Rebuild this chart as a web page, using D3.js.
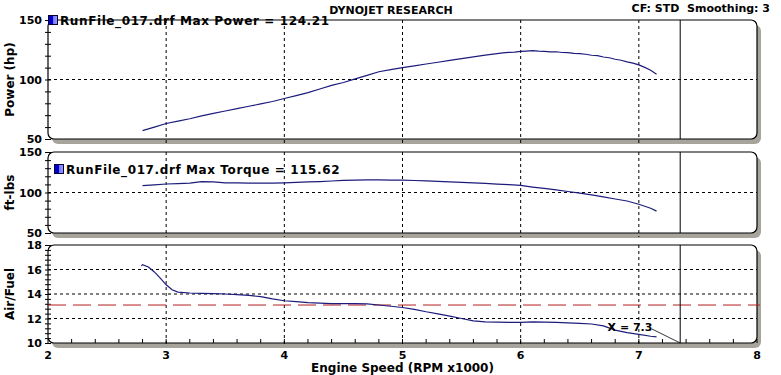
<!DOCTYPE html>
<html>
<head>
<meta charset="utf-8">
<script src="https://cdn.jsdelivr.net/npm/d3@7"></script>
<style>
  body { margin: 0; background: #fff; }
  svg { display: block; font-family: "DejaVu Sans", Verdana, sans-serif; font-weight: bold; }
</style>
</head>
<body>
<div id="chart"></div>
<script>
// values
const powerRpm = [2.8, 2.9, 3.0, 3.1, 3.2, 3.3, 3.4, 3.5, 3.6, 3.7, 3.8, 3.9, 4.0, 4.1, 4.2, 4.3, 4.4, 4.5, 4.6, 4.7, 4.8, 4.9, 5.0, 5.1, 5.2, 5.3, 5.4, 5.5, 5.6, 5.7,
  5.8, 5.85, 5.9, 5.95, 6.0, 6.05, 6.1, 6.15, 6.2, 6.25, 6.3, 6.35, 6.4, 6.45, 6.5, 6.55, 6.6, 6.65, 6.7, 6.75, 6.8, 6.85, 6.9, 6.95, 7.0, 7.05, 7.1, 7.15]
const power = [57, 60, 63, 65, 67, 69.5, 71.5, 73.5, 75.5, 77.5, 79.5, 81.5, 84, 86.5, 89, 92, 95, 97.5, 100.5, 103.5, 106.5, 108.3, 110, 111.5, 113, 114.5, 116, 117.5, 119, 120.5,
  121.8, 122.3, 122.8, 123.0, 123.6, 123.9, 124.2, 123.8, 123.7, 123.2, 123.3, 122.7, 122.6, 121.9, 121.7, 121.2, 120.4, 120.0, 118.9, 118.3, 117.0, 116.2, 114.8, 113.8, 112.3, 110.2, 107.8, 104.5]

const torqueRpm = [2.8, 2.9, 3.0, 3.1, 3.2, 3.3, 3.4, 3.5, 3.6, 3.7, 3.8, 3.9, 4.0, 4.1, 4.2, 4.3, 4.4, 4.5, 4.6, 4.7, 4.8, 4.9, 5.0, 5.1, 5.2, 5.3, 5.4, 5.5, 5.6, 5.7,
  5.8, 5.9, 6.0, 6.1, 6.2, 6.3, 6.4, 6.5, 6.6, 6.7, 6.8, 6.9, 7.0, 7.1, 7.15]
const torque = [108.5, 109.5, 110.5, 111, 111.5, 113.5, 113, 112, 112, 111.5, 111.5, 111.5, 112, 112.5, 113, 113.5, 114.2, 115, 115.3, 115.6, 115.6, 115.4, 115.3, 114.8, 114.3, 113.8, 113, 112.5, 112, 111.2,
  110.3, 109.6, 108.7, 106.7, 105, 103.2, 101.2, 99.2, 97, 94.5, 92, 89.5, 85.5, 80.5, 77]

const afrRpm = [2.79, 2.8, 2.85, 2.9, 2.95, 3.0, 3.05, 3.1, 3.2, 3.3, 3.4, 3.5, 3.6, 3.7, 3.8, 3.9, 4.0, 4.1, 4.2, 4.3, 4.4, 4.5, 4.6, 4.7, 4.8, 4.9, 5.0, 5.1, 5.2, 5.3, 5.4, 5.5, 5.6,
  5.7, 5.8, 5.9, 6.0, 6.1, 6.2, 6.3, 6.4, 6.5, 6.6, 6.7, 6.8, 6.9, 7.0, 7.1, 7.15]
const afr = [16.3, 16.4, 16.2, 15.8, 15.3, 14.75, 14.35, 14.15, 14.08, 14.05, 14.03, 14.0, 13.95, 13.88, 13.78, 13.6, 13.45, 13.38, 13.3, 13.25, 13.22, 13.22, 13.22, 13.2, 13.1, 13.0, 12.9, 12.75, 12.55, 12.38, 12.2, 12.0, 11.8,
  11.72, 11.7, 11.68, 11.68, 11.72, 11.7, 11.68, 11.65, 11.6, 11.55, 11.4, 11.05, 10.85, 10.7, 10.55, 10.5]

const afrTarget = 13.1
const cursorRpm = 7.35
const xTicks = [2, 3, 4, 5, 6, 7, 8]

const svgWidth = 781
const svgHeight = 375
const left = 48, right = 757

const svg = d3.select("#chart").append("svg")
    .attr("width", svgWidth)
    .attr("height", svgHeight)

const defs = svg.append("defs")
const grad = defs.append("linearGradient").attr("id", "legendFill")
grad.append("stop").attr("offset", "0%").attr("stop-color", "#0000c8")
grad.append("stop").attr("offset", "50%").attr("stop-color", "#0000c8")
grad.append("stop").attr("offset", "55%").attr("stop-color", "#7a7aff")
grad.append("stop").attr("offset", "100%").attr("stop-color", "#9a9aff")

const x = d3.scaleLinear().domain([2, 8]).range([left, right])

const panels = [
  { top: 20, bottom: 139, domain: [50, 150], majors: [50, 100, 150], minor: 10, grid: [100],
    title: "Power (hp)", xs: powerRpm, ys: power, legend: "RunFile_017.drf Max Power = 124.21", lx: 48, ly: 15 },
  { top: 152, bottom: 233, domain: [50, 150], majors: [50, 100, 150], minor: 10, grid: [100],
    title: "ft-lbs", xs: torqueRpm, ys: torque, legend: "RunFile_017.drf Max Torque = 115.62", lx: 54, ly: 164 },
  { top: 245, bottom: 343, domain: [10, 18], majors: [10, 12, 14, 16, 18], minor: 0.4, grid: [12, 14, 16],
    title: "Air/Fuel", xs: afrRpm, ys: afr }
]

panels.forEach(function(p, i) {
  const y = d3.scaleLinear().domain(p.domain).range([p.bottom, p.top])
  const g = svg.append("g")

  // shadow + box
  g.append("rect")
    .attr("x", left + 4).attr("y", p.top + 5)
    .attr("width", right - left).attr("height", p.bottom - p.top)
    .attr("rx", 6)
    .attr("fill", "#a7a59b")
  g.append("rect")
    .attr("x", left).attr("y", p.top)
    .attr("width", right - left).attr("height", p.bottom - p.top)
    .attr("rx", 6)
    .attr("fill", "#fff")
    .attr("stroke", "#000")
    .attr("stroke-width", 1.2)

  // grid
  g.selectAll(".vgrid")
    .data(xTicks.slice(1, -1))
    .join("line")
    .attr("x1", d => x(d)).attr("x2", d => x(d))
    .attr("y1", p.top).attr("y2", p.bottom + 4)
    .attr("stroke", "#000")
    .attr("stroke-dasharray", "3,3")
  g.selectAll(".hgrid")
    .data(p.grid)
    .join("line")
    .attr("x1", left).attr("x2", right)
    .attr("y1", d => y(d)).attr("y2", d => y(d))
    .attr("stroke", "#000")
    .attr("stroke-dasharray", "3,3")

  // left axis with minor ticks
  const tickVals = d3.range(p.domain[0], p.domain[1] + p.minor / 2, p.minor)
  const yAxis = g.append("g")
    .attr("transform", `translate(${left},0)`)
    .call(d3.axisLeft(y).tickValues(tickVals).tickSizeOuter(0)
      .tickFormat(d => p.majors.some(m => Math.abs(m - d) < 1e-6) ? d3.format("d")(d) : ""))
  yAxis.select(".domain").remove()
  yAxis.selectAll(".tick line").attr("x1", -3).attr("x2", 3).attr("stroke", "#000")
  yAxis.selectAll(".tick text")
    .attr("x", -6)
    .attr("font-family", "DejaVu Sans, Verdana, sans-serif")
    .attr("font-weight", "bold")
    .attr("font-size", 11)
    .attr("fill", "#000")

  svg.append("text")
    .attr("transform", `translate(14,${(p.top + p.bottom) / 2}) rotate(-90)`)
    .attr("text-anchor", "middle")
    .attr("font-size", 12)
    .text(p.title)

  if (i === 2) {
    g.append("line")
      .attr("x1", left).attr("x2", 760)
      .attr("y1", y(afrTarget)).attr("y2", y(afrTarget))
      .attr("stroke", "#b41e1e")
      .attr("stroke-dasharray", "18,7")
  }

  // cursor line
  g.append("line")
    .attr("x1", x(cursorRpm)).attr("x2", x(cursorRpm))
    .attr("y1", p.top).attr("y2", p.bottom)
    .attr("stroke", "#000")

  // curve
  const pts = p.xs.map((r, k) => [r, p.ys[k]])
  g.append("path")
    .datum(pts)
    .attr("fill", "none")
    .attr("stroke", "#1c1c7c")
    .attr("stroke-width", 1.2)
    .attr("d", d3.line().x(d => x(d[0])).y(d => y(d[1])))

  if (p.legend) {
    g.append("rect")
      .attr("x", p.lx + 0.5).attr("y", p.ly + 0.5)
      .attr("width", 9).attr("height", 9)
      .attr("fill", "url(#legendFill)")
      .attr("stroke", "#000033")
    g.append("text")
      .attr("x", p.lx + 12).attr("y", p.ly + 10)
      .attr("font-size", 12)
      .attr("letter-spacing", 0.6)
      .text(p.legend)
  }

  if (i === 2) {
    // bottom axis
    const minorX = d3.range(2, 8.01, 0.2)
    g.selectAll(".xminor")
      .data(minorX)
      .join("line")
      .attr("x1", d => x(d)).attr("x2", d => x(d))
      .attr("y1", p.bottom - 4).attr("y2", p.bottom)
      .attr("stroke", "#000")
    g.selectAll(".xlabel")
      .data(xTicks)
      .join("text")
      .attr("x", d => x(d))
      .attr("y", p.bottom + 16)
      .attr("text-anchor", "middle")
      .attr("font-size", 11)
      .text(d => d)

    // cursor readout
    g.append("line")
      .attr("x1", 652).attr("y1", 329)
      .attr("x2", x(cursorRpm)).attr("y2", p.bottom)
      .attr("stroke", "#000")
      .attr("stroke-width", 0.8)
    g.append("text")
      .attr("x", 630).attr("y", 331)
      .attr("text-anchor", "middle")
      .attr("font-size", 11)
      .text("X = 7.3")
  }
})

svg.append("text")
  .attr("x", (left + right) / 2).attr("y", 372)
  .attr("text-anchor", "middle")
  .attr("font-size", 12)
  .text("Engine Speed (RPM x1000)")

svg.append("text")
  .attr("x", 391).attr("y", 14)
  .attr("text-anchor", "middle")
  .attr("font-size", 11)
  .text("DYNOJET RESEARCH")

svg.append("text")
  .attr("x", 770).attr("y", 12)
  .attr("text-anchor", "end")
  .attr("font-size", 11)
  .style("white-space", "pre")
  .text("CF: STD  Smoothing: 3")
</script>
</body>
</html>
